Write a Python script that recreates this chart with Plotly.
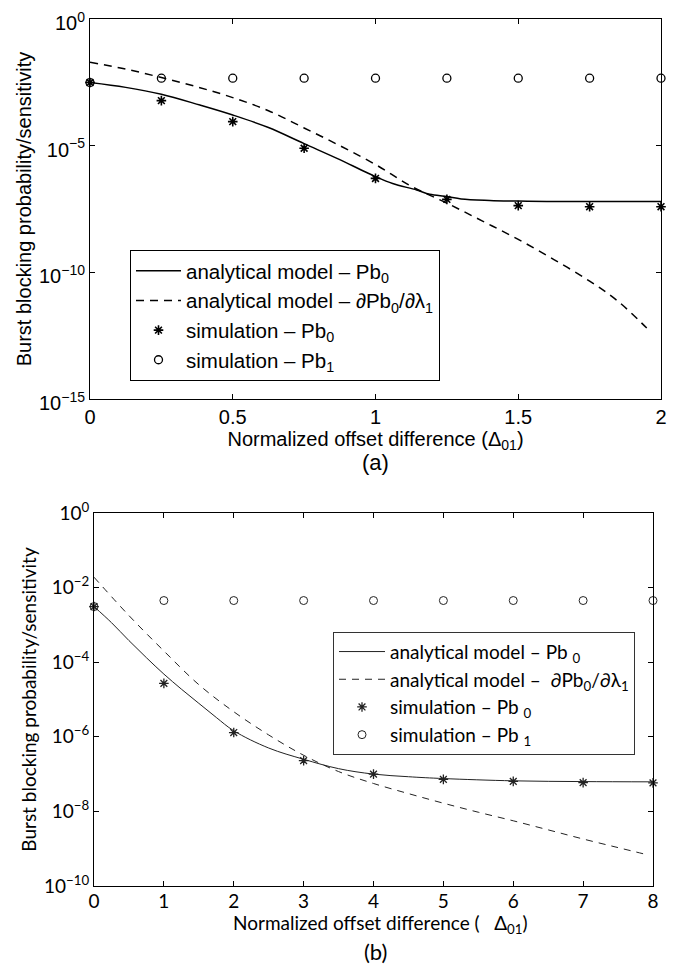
import plotly.graph_objects as go

# ---------------- data: panel (a) ----------------
sim_x_a = [0, 0.25, 0.5, 0.75, 1.0, 1.25, 1.5, 1.75, 2.0]
sim_pb0_a = [3.1e-3, 6.0e-4, 8.9e-5, 7.9e-6, 5.1e-7, 7.6e-8, 4.3e-8, 3.9e-8, 3.9e-8]
sim_pb1_a = [3.1e-3, 4.6e-3, 4.6e-3, 4.6e-3, 4.6e-3, 4.6e-3, 4.6e-3, 4.6e-3, 4.6e-3]

model_x_a = [0, 0.125, 0.25, 0.385, 0.5, 0.625, 0.75, 0.875, 0.95, 1.0, 1.06, 1.144, 1.19, 1.25, 1.3, 1.4, 1.5, 1.6, 1.75, 2.0]
model_pb0_a = [3.1e-3, 2.0e-3, 1.07e-3, 4.0e-4, 1.62e-4, 5.2e-5, 1.2e-5, 2.8e-6, 1.1e-6, 6.0e-7, 3.2e-7, 1.78e-7, 1.2e-7, 9.8e-8, 7.9e-8, 6.9e-8, 6.5e-8, 6.3e-8, 6.3e-8, 6.3e-8]

sens_x_a = [0, 0.125, 0.25, 0.375, 0.5, 0.625, 0.75, 0.875, 1.0, 1.125, 1.25, 1.375, 1.5, 1.625, 1.75, 1.85, 1.95]
sens_a = [1.95e-2, 1.05e-2, 4.9e-3, 2.1e-3, 7.9e-4, 2.4e-4, 5.0e-5, 1.0e-5, 1.8e-6, 2.5e-7, 5.4e-8, 1.05e-8, 2.0e-9, 3.2e-10, 4.5e-11, 7.1e-12, 6.3e-13]

# ---------------- data: panel (b) ----------------
sim_x_b = [0, 1, 2, 3, 4, 5, 6, 7, 8]
sim_pb0_b = [3.1e-3, 2.7e-5, 1.3e-6, 2.3e-7, 1.0e-7, 7.2e-8, 6.4e-8, 5.9e-8, 5.8e-8]
sim_pb1_b = [3.1e-3, 4.5e-3, 4.5e-3, 4.5e-3, 4.5e-3, 4.5e-3, 4.5e-3, 4.5e-3, 4.5e-3]

model_x_b = [0, 0.25, 0.5, 0.75, 1, 1.25, 1.5, 1.75, 2, 2.5, 3, 3.5, 4, 4.5, 5, 6, 7, 8]
model_pb0_b = [3.1e-3, 1.15e-3, 3.8e-4, 1.32e-4, 4.8e-5, 1.9e-5, 7.9e-6, 3.3e-6, 1.45e-6, 5.0e-7, 2.5e-7, 1.4e-7, 1.0e-7, 8.5e-8, 7.6e-8, 6.6e-8, 6.3e-8, 6.2e-8]

sens_x_b = [0, 0.5, 1, 1.5, 2, 2.5, 3, 3.5, 4, 4.5, 5, 5.5, 6, 6.5, 7, 7.5, 7.93]
sens_b = [1.9e-2, 1.78e-3, 2.0e-4, 2.5e-5, 4.7e-6, 1.12e-6, 3.2e-7, 1.17e-7, 5.6e-8, 3.0e-8, 1.66e-8, 9.5e-9, 5.6e-9, 3.2e-9, 1.82e-9, 1.07e-9, 6.8e-10]

ticks_a = [1, 1e-5, 1e-10, 1e-15]
ticktext_a = ["10<sup>0</sup>", "10<sup>−5</sup>", "10<sup>−10</sup>", "10<sup>−15</sup>"]
ticks_b = [1, 1e-2, 1e-4, 1e-6, 1e-8, 1e-10]
ticktext_b = ["10<sup>0</sup>", "10<sup>−2</sup>", "10<sup>−4</sup>", "10<sup>−6</sup>", "10<sup>−8</sup>", "10<sup>−10</sup>"]

W, H = 695, 969
OFF = 8  # page body margin
FA = "Liberation Sans"
FB = "Lato"


def px(v):
    return (v - OFF) / W


def py(v):
    return 1 - (v - OFF) / H


fig = go.Figure()

# panel (a)
fig.add_trace(go.Scatter(x=model_x_a, y=model_pb0_a, mode="lines", line=dict(color="black", width=1.5, shape="spline"),
                         name="analytical model – Pb<sub>0</sub>", xaxis="x", yaxis="y", legend="legend"))
fig.add_trace(go.Scatter(x=sens_x_a, y=sens_a, mode="lines", line=dict(color="black", width=1.5, dash="8px,6px", shape="spline"),
                         name="analytical model – ∂Pb<sub>0</sub>/∂λ<sub>1</sub>", xaxis="x", yaxis="y", legend="legend"))
fig.add_trace(go.Scatter(x=sim_x_a, y=sim_pb0_a, mode="markers", cliponaxis=False,
                         marker=dict(symbol="asterisk-open", size=8, color="black", line=dict(color="black", width=1.6)),
                         name="simulation – Pb<sub>0</sub>", xaxis="x", yaxis="y", legend="legend"))
fig.add_trace(go.Scatter(x=sim_x_a, y=sim_pb1_a, mode="markers", cliponaxis=False,
                         marker=dict(symbol="circle-open", size=8, color="black", line=dict(color="black", width=1.3)),
                         name="simulation – Pb<sub>1</sub>", xaxis="x", yaxis="y", legend="legend"))

# panel (b)
fig.add_trace(go.Scatter(x=model_x_b, y=model_pb0_b, mode="lines", line=dict(color="#222", width=1, shape="spline"),
                         name="analytical model – Pb <sub>0</sub>", xaxis="x2", yaxis="y2", legend="legend2"))
fig.add_trace(go.Scatter(x=sens_x_b, y=sens_b, mode="lines", line=dict(color="#222", width=1, dash="7px,6px", shape="spline"),
                         name="analytical model –  ∂Pb<sub>0</sub>/∂λ<sub>1</sub>", xaxis="x2", yaxis="y2", legend="legend2"))
fig.add_trace(go.Scatter(x=sim_x_b, y=sim_pb0_b, mode="markers", cliponaxis=False,
                         marker=dict(symbol="asterisk-open", size=8, color="#222", line=dict(color="#222", width=1.3)),
                         name="simulation – Pb <sub>0</sub>", xaxis="x2", yaxis="y2", legend="legend2"))
fig.add_trace(go.Scatter(x=sim_x_b, y=sim_pb1_b, mode="markers", cliponaxis=False,
                         marker=dict(symbol="circle-open", size=8, color="#222", line=dict(color="#222", width=1)),
                         name="simulation – Pb <sub>1</sub>", xaxis="x2", yaxis="y2", legend="legend2"))

ax_common = dict(showline=True, linecolor="black", linewidth=1, mirror="ticks", ticks="inside",
                 ticklen=5, tickcolor="black", showgrid=False, zeroline=False, automargin=False,
                 ticklabeloverflow="allow")

fig.update_layout(
    width=W, height=H, margin=dict(l=0, r=0, t=0, b=0, autoexpand=False),
    plot_bgcolor="white", paper_bgcolor="white",
    xaxis=dict(domain=[px(90), px(661)], anchor="y", range=[0, 2], tickvals=[0, 0.5, 1, 1.5, 2],
               ticktext=["0", "0.5", "1", "1.5", "2"],
               tickfont=dict(family=FA, size=20, color="black"),
               title=dict(text="Normalized offset difference (Δ<sub>01</sub>)", font=dict(family=FA, size=20, color="black"), standoff=2),
               **ax_common),
    yaxis=dict(domain=[py(399), py(19)], anchor="x", type="log", range=[-15, 0], tickvals=ticks_a,
               ticktext=ticktext_a, tickfont=dict(family=FA, size=20, color="black"), ticklabelshift=4,
               title=dict(text="Burst blocking probability/sensitivity", font=dict(family=FA, size=20, color="black"), standoff=2),
               **ax_common),
    xaxis2=dict(domain=[px(94), px(653)], anchor="y2", range=[0, 8], tickvals=[0, 1, 2, 3, 4, 5, 6, 7, 8],
                tickfont=dict(family=FB, size=19, color="black"), ticklabelstandoff=-2,
                **ax_common),
    yaxis2=dict(domain=[py(886), py(513)], anchor="x2", type="log", range=[-10, 0], tickvals=ticks_b,
                ticktext=ticktext_b, tickfont=dict(family=FB, size=19, color="black"),
                title=dict(text="Burst blocking probability/sensitivity", font=dict(family=FB, size=19, color="black"), standoff=2),
                **ax_common),
    legend=dict(x=px(130), y=py(250), xanchor="left", yanchor="top", bgcolor="white",
                bordercolor="black", borderwidth=1, font=dict(family=FA, size=20.5, color="black"),
                tracegroupgap=0, itemwidth=45),
    legend2=dict(x=px(333), y=py(631.7), xanchor="left", yanchor="top", bgcolor="white",
                 bordercolor="#333", borderwidth=1, font=dict(family=FB, size=19, color="black"),
                 tracegroupgap=0, itemwidth=46),
    showlegend=True,
    annotations=[
        dict(text="(a)", x=px(375), y=py(463), xref="paper", yref="paper", showarrow=False,
             xanchor="center", yanchor="middle", font=dict(family=FA, size=22, color="black")),
        dict(text="Normalized offset difference (   Δ<sub>01</sub>)", x=px(381), y=py(924), xref="paper", yref="paper",
             showarrow=False, xanchor="center", yanchor="middle", font=dict(family=FB, size=19, color="black")),
        dict(text="(b)", x=px(375), y=py(951), xref="paper", yref="paper", showarrow=False,
             xanchor="center", yanchor="middle", font=dict(family=FB, size=22, color="black")),
    ],
)

fig.write_html("out.html")
